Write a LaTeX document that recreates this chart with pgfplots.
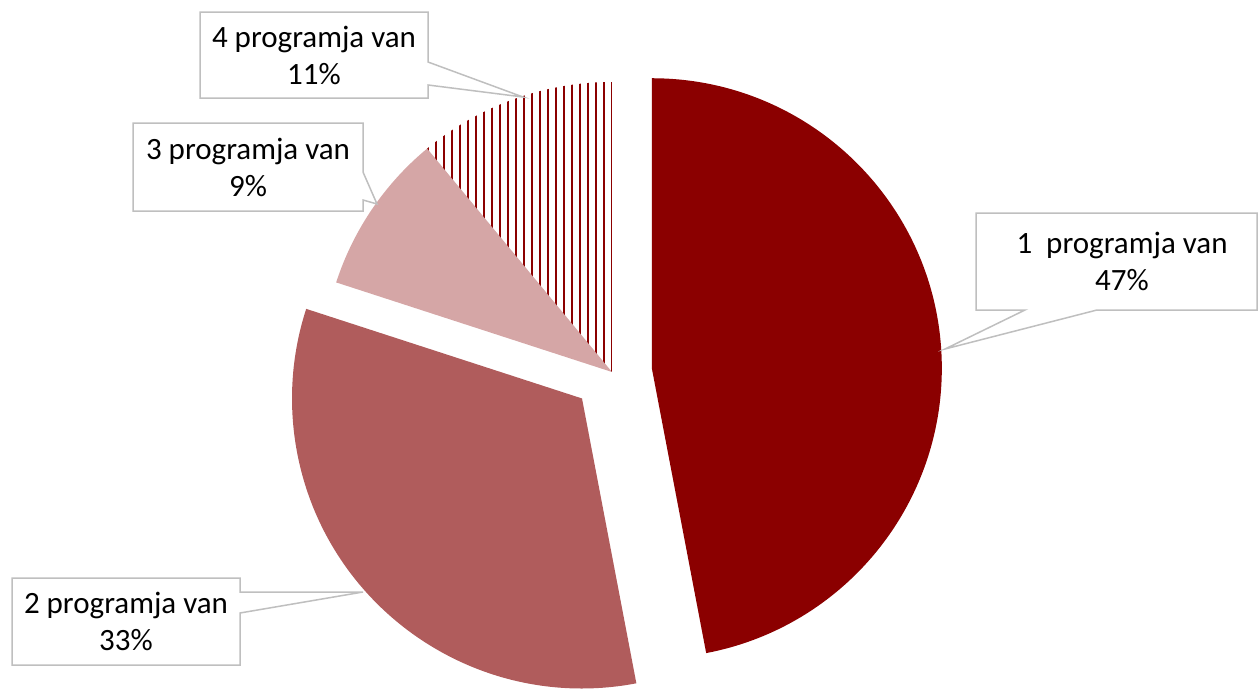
\documentclass[border=0pt]{standalone}
\usepackage{pgfplots}
\pgfplotsset{compat=1.18}
\usepackage{pgfplotstable}
\usepackage{fontspec}
\setmainfont{Carlito}
\definecolor{sA}{HTML}{8B0000}
\definecolor{sB}{HTML}{B05C5C}
\definecolor{sC}{HTML}{D5A6A6}
\definecolor{bord}{HTML}{BFBFBF}

\pgfplotstableread{
slice value explode
1 47 40
2 33 40
3 9 0
4 11 0
}\piedata

\begin{document}
\begin{tikzpicture}
\pgfplotstablegetelem{0}{value}\of\piedata \edef\va{\pgfplotsretval}
\pgfplotstablegetelem{1}{value}\of\piedata \edef\vb{\pgfplotsretval}
\pgfplotstablegetelem{2}{value}\of\piedata \edef\vc{\pgfplotsretval}
\pgfplotstablegetelem{3}{value}\of\piedata \edef\vd{\pgfplotsretval}
\pgfplotstablegetelem{0}{explode}\of\piedata \edef\ea{\pgfplotsretval}
\pgfplotstablegetelem{1}{explode}\of\piedata \edef\eb{\pgfplotsretval}
\pgfplotstablegetelem{2}{explode}\of\piedata \edef\ec{\pgfplotsretval}
\pgfplotstablegetelem{3}{explode}\of\piedata \edef\ed{\pgfplotsretval}
\pgfmathsetmacro\tot{\va+\vb+\vc+\vd}
% cumulative angles, clockwise from top, converted to TikZ angles
\pgfmathsetmacro\tA{90}
\pgfmathsetmacro\tB{90-360*(\va/\tot)}
\pgfmathsetmacro\tC{90-360*((\va+\vb)/\tot)}
\pgfmathsetmacro\tD{90-360*((\va+\vb+\vc)/\tot)}
\pgfmathsetmacro\tE{90-360}
% centres of the slices (axis units = px)
\def\cx{612}\def\cy{321}
\pgfmathsetmacro\xa{\cx+\ea*cos((\tA+\tB)/2)}\pgfmathsetmacro\ya{\cy+\ea*sin((\tA+\tB)/2)}
\pgfmathsetmacro\xb{\cx+\eb*cos((\tB+\tC)/2)}\pgfmathsetmacro\yb{\cy+\eb*sin((\tB+\tC)/2)}
\pgfmathsetmacro\xc{\cx+\ec*cos((\tC+\tD)/2)}\pgfmathsetmacro\yc{\cy+\ec*sin((\tC+\tD)/2)}
\pgfmathsetmacro\xd{\cx+\ed*cos((\tD+\tE)/2)}\pgfmathsetmacro\yd{\cy+\ed*sin((\tD+\tE)/2)}
\begin{axis}[
  scale only axis, width=629pt, height=346.5pt,
  xmin=0, xmax=1258, ymin=0, ymax=693,
  hide axis, clip=false,
]
\fill[sA] (axis cs:\xa,\ya) -- ++(\tA:145pt) arc[start angle=\tA, end angle=\tB, radius=145pt] -- cycle;
\fill[sB] (axis cs:\xb,\yb) -- ++(\tB:145pt) arc[start angle=\tB, end angle=\tC, radius=145pt] -- cycle;
\fill[sC] (axis cs:\xc,\yc) -- ++(\tC:145pt) arc[start angle=\tC, end angle=\tD, radius=145pt] -- cycle;
\begin{scope}
\clip (axis cs:\xd,\yd) -- ++(\tD:145pt) arc[start angle=\tD, end angle=\tE, radius=145pt] -- cycle;
\pgfplotsinvokeforeach{420,428,...,612}{
  \draw[sA, line width=1.15pt] (axis cs:#1,300) -- (axis cs:#1,693);
}
\end{scope}

% callouts
\draw[bord, fill=white, line width=0.75pt] (axis cs:200,681) -- (axis cs:428,681) -- (axis cs:428,631) -- (axis cs:523,596) -- (axis cs:428,608) -- (axis cs:428,595) -- (axis cs:200,595) -- cycle;
\node[align=center, font=\fontsize{15.5}{18.5}\selectfont, text=black] at (axis cs:314,638) {4 programja van\\11\%};

\draw[bord, fill=white, line width=0.75pt] (axis cs:133,570) -- (axis cs:363,570) -- (axis cs:363,521) -- (axis cs:377,489) -- (axis cs:363,493) -- (axis cs:363,482) -- (axis cs:133,482) -- cycle;
\node[align=center, font=\fontsize{15.5}{18.5}\selectfont, text=black] at (axis cs:248,526) {3 programja van\\9\%};

\draw[bord, fill=white, line width=0.75pt] (axis cs:976,480) -- (axis cs:1257,480) -- (axis cs:1257,383) -- (axis cs:1097,383) -- (axis cs:945,344) -- (axis cs:1025,383) -- (axis cs:976,383) -- cycle;
\node[align=center, font=\fontsize{15.5}{18.5}\selectfont, text=black] at (axis cs:1122,432) {1\ \ programja van\\47\%};

\draw[bord, fill=white, line width=0.75pt] (axis cs:12,115) -- (axis cs:240,115) -- (axis cs:240,101) -- (axis cs:363,101) -- (axis cs:240,80) -- (axis cs:240,28) -- (axis cs:12,28) -- cycle;
\node[align=center, font=\fontsize{15.5}{18.5}\selectfont, text=black] at (axis cs:126,72) {2 programja van\\33\%};
\end{axis}
\pgfresetboundingbox
\path[use as bounding box] (current axis.south west) rectangle (current axis.north east);
\end{tikzpicture}
\end{document}
